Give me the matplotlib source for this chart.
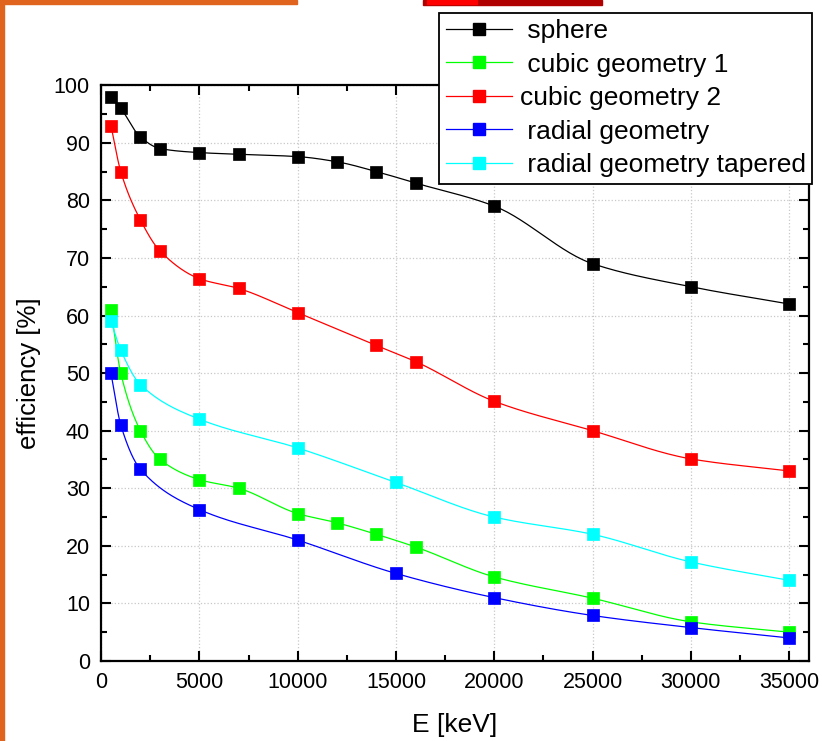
import matplotlib
matplotlib.use("Agg")
import matplotlib.pyplot as plt
from matplotlib.patches import Rectangle
import numpy as np

# data (E in keV, efficiency in %)
sphere_e = [500, 1000, 2000, 3000, 5000, 7000, 10000, 12000, 14000, 16000, 20000, 25000, 30000, 35000]
sphere_eff = [98, 96, 91, 89, 88.3, 88, 87.6, 86.7, 85, 83, 79, 69, 65, 62]

cubic1_e = [500, 1000, 2000, 3000, 5000, 7000, 10000, 12000, 14000, 16000, 20000, 25000, 30000, 35000]
cubic1_eff = [61, 50, 40, 35, 31.5, 30, 25.6, 24, 22, 19.8, 14.6, 10.9, 6.8, 5]

cubic2_e = [500, 1000, 2000, 3000, 5000, 7000, 10000, 14000, 16000, 20000, 25000, 30000, 35000]
cubic2_eff = [93, 85, 76.6, 71.2, 66.4, 64.7, 60.5, 54.8, 52, 45.1, 40, 35.1, 33]

radial_e = [500, 1000, 2000, 5000, 10000, 15000, 20000, 25000, 30000, 35000]
radial_eff = [50, 41, 33.3, 26.3, 21, 15.2, 11, 7.9, 5.8, 4]

tapered_e = [500, 1000, 2000, 5000, 10000, 15000, 20000, 25000, 30000, 35000]
tapered_eff = [59, 54, 48, 42, 37, 31, 25, 22, 17.2, 14]

series = [
    (" sphere", sphere_e, sphere_eff, "black"),
    (" cubic geometry 1", cubic1_e, cubic1_eff, "#00ff00"),
    ("cubic geometry 2", cubic2_e, cubic2_eff, "#ff0000"),
    (" radial geometry", radial_e, radial_eff, "#0000ff"),
    (" radial geometry tapered", tapered_e, tapered_eff, "#00ffff"),
]


def smooth(x, y, n=30):
    # monotone cubic hermite connector between the measured points
    x = np.asarray(x, float)
    y = np.asarray(y, float)
    h = np.diff(x)
    d = np.diff(y) / h
    m = np.zeros_like(y)
    m[0], m[-1] = d[0], d[-1]
    for k in range(1, len(x) - 1):
        if d[k - 1] * d[k] > 0:
            w1 = 2 * h[k] + h[k - 1]
            w2 = h[k] + 2 * h[k - 1]
            m[k] = (w1 + w2) / (w1 / d[k - 1] + w2 / d[k])
    xs, ys = [], []
    for k in range(len(x) - 1):
        t = np.linspace(0, 1, n, endpoint=False)
        h00 = 2 * t**3 - 3 * t**2 + 1
        h10 = t**3 - 2 * t**2 + t
        h01 = -2 * t**3 + 3 * t**2
        h11 = t**3 - t**2
        xs.append(x[k] + t * h[k])
        ys.append(h00 * y[k] + h10 * h[k] * m[k] + h01 * y[k + 1] + h11 * h[k] * m[k + 1])
    xs.append([x[-1]])
    ys.append([y[-1]])
    return np.concatenate(xs), np.concatenate(ys)


plt.rcParams['font.family'] = ['Liberation Sans', 'DejaVu Sans']
fig = plt.figure(figsize=(8.22, 7.41), dpi=100)
ax = fig.add_axes([0.123, 0.108, 0.861, 0.777])

for label, e, eff, color in series:
    xs, ys = smooth(e, eff)
    ax.plot(xs, ys, color=color, lw=0.9)
    ax.plot(e, eff, ls='none', marker='s', ms=8.5, color=color, mec=color, mew=0.5)
    ax.plot([], [], color=color, lw=0.9, marker='s', ms=8.5, mec=color, label=label)

ax.set_xlim(0, 36000)
ax.set_ylim(0, 100)
ax.set_xticks(np.arange(0, 35001, 5000))
ax.set_xticks(np.arange(2500, 36000, 5000), minor=True)
ax.set_yticks(np.arange(0, 101, 10))
ax.set_yticks(np.arange(5, 100, 10), minor=True)
ax.tick_params(which='both', direction='in', top=True, right=True, width=1.5, labelsize=15.5)
ax.tick_params(which='major', length=7.5, pad=8)
ax.tick_params(which='minor', length=4.5)
ax.grid(True, which='major', ls=':', color='#c8c8c8', lw=0.9)
for s in ax.spines.values():
    s.set_linewidth(1.6)

ax.set_xlabel("E [keV]", fontsize=19, labelpad=14)
ax.set_ylabel("efficiency [%]", fontsize=18.5, labelpad=9)

leg = fig.legend(loc='upper right', bbox_to_anchor=(0.988, 0.983), fontsize=19,
                 frameon=True, fancybox=False, edgecolor='black', framealpha=1,
                 handlelength=2.5, handletextpad=0.3, labelspacing=0.36,
                 borderpad=0.25, borderaxespad=0)
leg.get_frame().set_linewidth(1.3)

# orange border strips and red shape cut off at the top of the picture
fig.patches.append(Rectangle((0, 0), 0.005, 1, transform=fig.transFigure, color='#e0641e', zorder=5))
fig.patches.append(Rectangle((0, 0.994), 0.361, 0.006, transform=fig.transFigure, color='#e0641e', zorder=5))
fig.patches.append(Rectangle((0.515, 0.993), 0.217, 0.007, transform=fig.transFigure, color='#b00000', zorder=5))
fig.patches.append(Rectangle((0.52, 0.995), 0.06, 0.005, transform=fig.transFigure, color='#ff0000', zorder=6))

plt.savefig("out.png", dpi=100)
